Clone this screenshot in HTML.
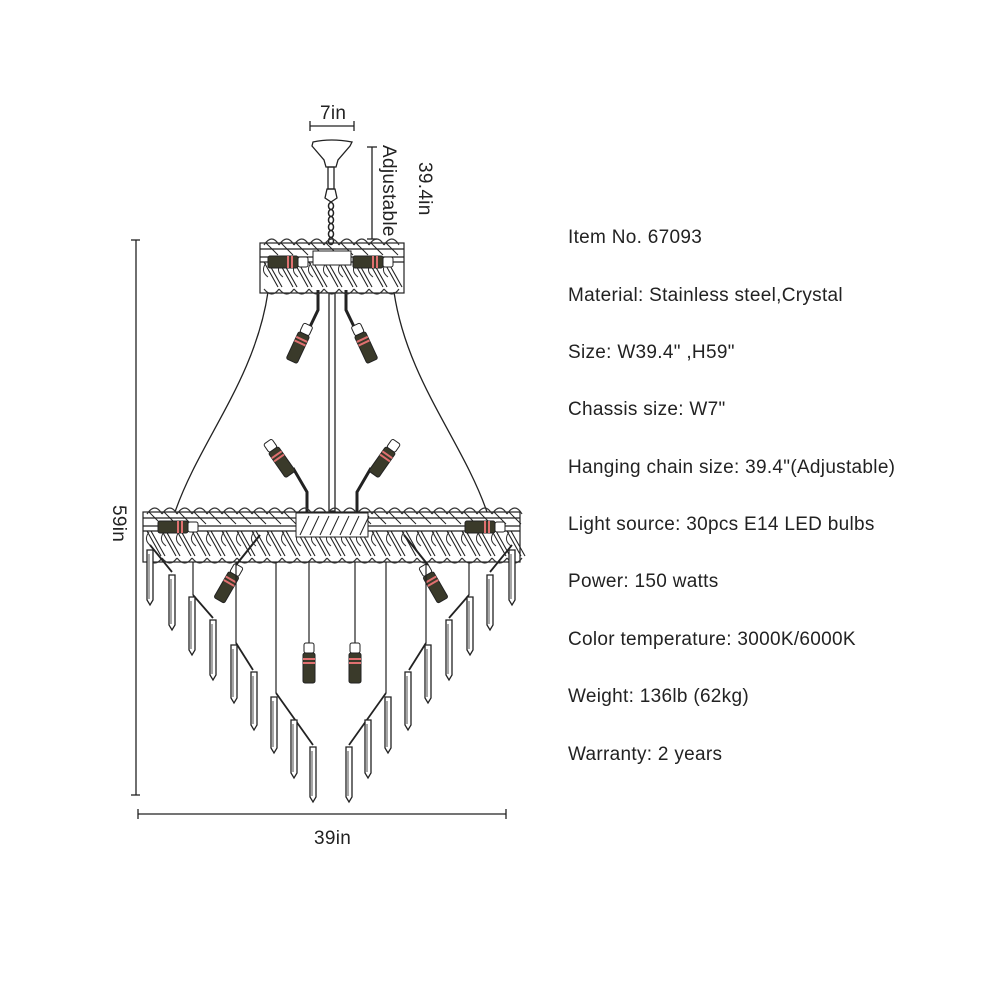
<!DOCTYPE html>
<html><head><meta charset="utf-8"><style>
html,body{margin:0;padding:0;background:#fff}
svg{display:block}
.t{font-family:"Liberation Sans",sans-serif;font-size:19px;fill:#222;letter-spacing:0.3px}
</style></head><body>
<svg id="s" width="1000" height="1000" viewBox="0 0 1000 1000" xmlns="http://www.w3.org/2000/svg">
<g stroke="#222" fill="none" stroke-width="1.3">
<line x1="310" y1="126" x2="354" y2="126"/><line x1="310" y1="121" x2="310" y2="131"/><line x1="354" y1="121" x2="354" y2="131"/>
<line x1="372" y1="147" x2="372" y2="239"/><line x1="367" y1="147" x2="377" y2="147"/><line x1="367" y1="239" x2="377" y2="239"/>
<line x1="136" y1="240" x2="136" y2="795"/><line x1="131" y1="240" x2="140" y2="240"/><line x1="131" y1="795" x2="140" y2="795"/>
<line x1="138" y1="814" x2="506" y2="814"/><line x1="138" y1="809" x2="138" y2="819"/><line x1="506" y1="809" x2="506" y2="819"/>
<path d="M313 142 Q331 138 352 142 L350 146 L338 160 L336 167 L326 167 L324 160 L312 146 Z"/>
<rect x="328" y="167" width="6" height="22"/>
<path d="M327 189 L335 189 L337 198 L331 202 L325 198 Z"/>
<path d="M268 292 C 255 380 200 440 175 512"/>
<path d="M394 292 C 407 380 462 440 487 512"/>
<rect x="329" y="293" width="6" height="218"/>
<path d="M318 290 L318 310 L306 335" stroke-width="3"/>
<path d="M346 290 L346 310 L358 335" stroke-width="3"/>
<path d="M307 512 L307 492 L293 468" stroke-width="3"/>
<path d="M357 512 L357 492 L371 468" stroke-width="3"/>
</g>
<g id="dyn"></g>
<text class="t" x="320" y="119">7in</text>
<text class="t" x="314" y="844">39in</text>
<text class="t" transform="translate(383,145) rotate(90)">Adjustable</text>
<text class="t" transform="translate(419,162) rotate(90)">39.4in</text>
<text class="t" transform="translate(113,505) rotate(90)">59in</text>
<text class="t" x="568" y="243">Item No. 67093</text>
<text class="t" x="568" y="301">Material: Stainless steel,Crystal</text>
<text class="t" x="568" y="358">Size: W39.4" ,H59"</text>
<text class="t" x="568" y="415">Chassis size: W7"</text>
<text class="t" x="568" y="473">Hanging chain size: 39.4"(Adjustable)</text>
<text class="t" x="568" y="530">Light source: 30pcs E14 LED bulbs</text>
<text class="t" x="568" y="587">Power: 150 watts</text>
<text class="t" x="568" y="645">Color temperature: 3000K/6000K</text>
<text class="t" x="568" y="702">Weight: 136lb (62kg)</text>
<text class="t" x="568" y="760">Warranty: 2 years</text>
</svg>
<script>
var g=document.getElementById('dyn'),h='';
function L(a,b,c,d,w){h+='<line x1="'+a+'" y1="'+b+'" x2="'+c+'" y2="'+d+'" stroke="#222" stroke-width="'+(w||1.2)+'"/>';}
for(var y=203;y<240;y+=7)h+='<ellipse cx="331" cy="'+(y+3)+'" rx="2.5" ry="3.5" fill="none" stroke="#222" stroke-width="1.5"/>';
function ring(x1,x2,y1,y2){
 h+='<rect x="'+x1+'" y="'+(y1+8)+'" width="'+(x2-x1)+'" height="'+(y2-y1-8)+'" fill="none" stroke="#222" stroke-width="1.2"/>';
 L(x1,y1+14,x2,y1+14);L(x1,y1+22,x2,y1+22);L(x1,y1+27,x2,y1+27);
 for(var x=x1+4;x<x2-6;x+=15){
  h+='<path d="M'+x+' '+(y1+10)+' q8 -12 15 0" fill="none" stroke="#333" stroke-width="1.2"/>';
  h+='<path d="M'+x+' '+(y2-4)+' q8 10 15 0" fill="none" stroke="#333" stroke-width="1.2"/>';
  L(x,y1+27,x+14,y2-6,1.1);L(x+4,y1+27,x+18,y2-6,1.1);L(x+2,y1+8,x+14,y1+20,1);
  h+='<path d="M'+(x+2)+' '+(y1+28)+' q-6 8 2 14" fill="none" stroke="#333" stroke-width="1"/>';
 }
}
ring(260,404,235,293);
ring(143,520,504,562);
h+='<rect x="296" y="513" width="72" height="24" fill="#fff" stroke="#222"/>';
for(var x=300;x<366;x+=10)L(x,535,x+9,516,1);
h+='<rect x="313" y="251" width="38" height="14" fill="#fff" stroke="#222"/>';
function bulb(cx,cy,ang){
 h+='<g transform="translate('+cx+','+cy+') rotate('+ang+')"><rect x="-5" y="-20" width="10" height="10" rx="2" fill="#fff" stroke="#222"/><rect x="-6" y="-10" width="12" height="30" rx="2" fill="#3a3a2a" stroke="#222"/><rect x="-6" y="-5" width="12" height="2" fill="#e07070"/><rect x="-6" y="-1" width="12" height="2" fill="#e07070"/></g>';
}
bulb(300,343,25);bulb(364,343,-25);
bulb(279,458,-35);bulb(385,458,35);
bulb(309,663,0);bulb(355,663,0);
bulb(229,583,30);bulb(433,583,-30);
bulb(178,527,90);bulb(288,262,90);bulb(373,262,90);bulb(485,527,90);
L(309,562,309,643);L(355,562,355,643);
L(260,535,236,565,2);L(404,535,428,565,2);
function cr(x,y1,y2){h+='<path d="M'+(x-3)+' '+y1+' L'+(x+3)+' '+y1+' L'+(x+3)+' '+(y2-5)+' L'+x+' '+y2+' L'+(x-3)+' '+(y2-5)+' Z" fill="#fff" stroke="#222" stroke-width="1.3"/>';L(x-1,y1+4,x-1,y2-6,0.8);}
function side(s){
 function X(x){return s? 662-x : x;}
 cr(X(150),550,605);L(X(150),545,X(172),572,1.8);cr(X(172),575,630);
 L(X(193),562,X(193),595);L(X(193),595,X(213),618,1.8);cr(X(192),597,655);cr(X(213),620,680);
 L(X(236),562,X(236),643);L(X(236),643,X(253),670,1.8);cr(X(234),645,703);cr(X(254),672,730);
 L(X(276),562,X(276),693);L(X(276),693,X(313),745,1.8);cr(X(274),697,753);cr(X(294),720,778);cr(X(313),747,802);
}
side(0);side(1);
g.innerHTML=h;
</script>
</body></html>
